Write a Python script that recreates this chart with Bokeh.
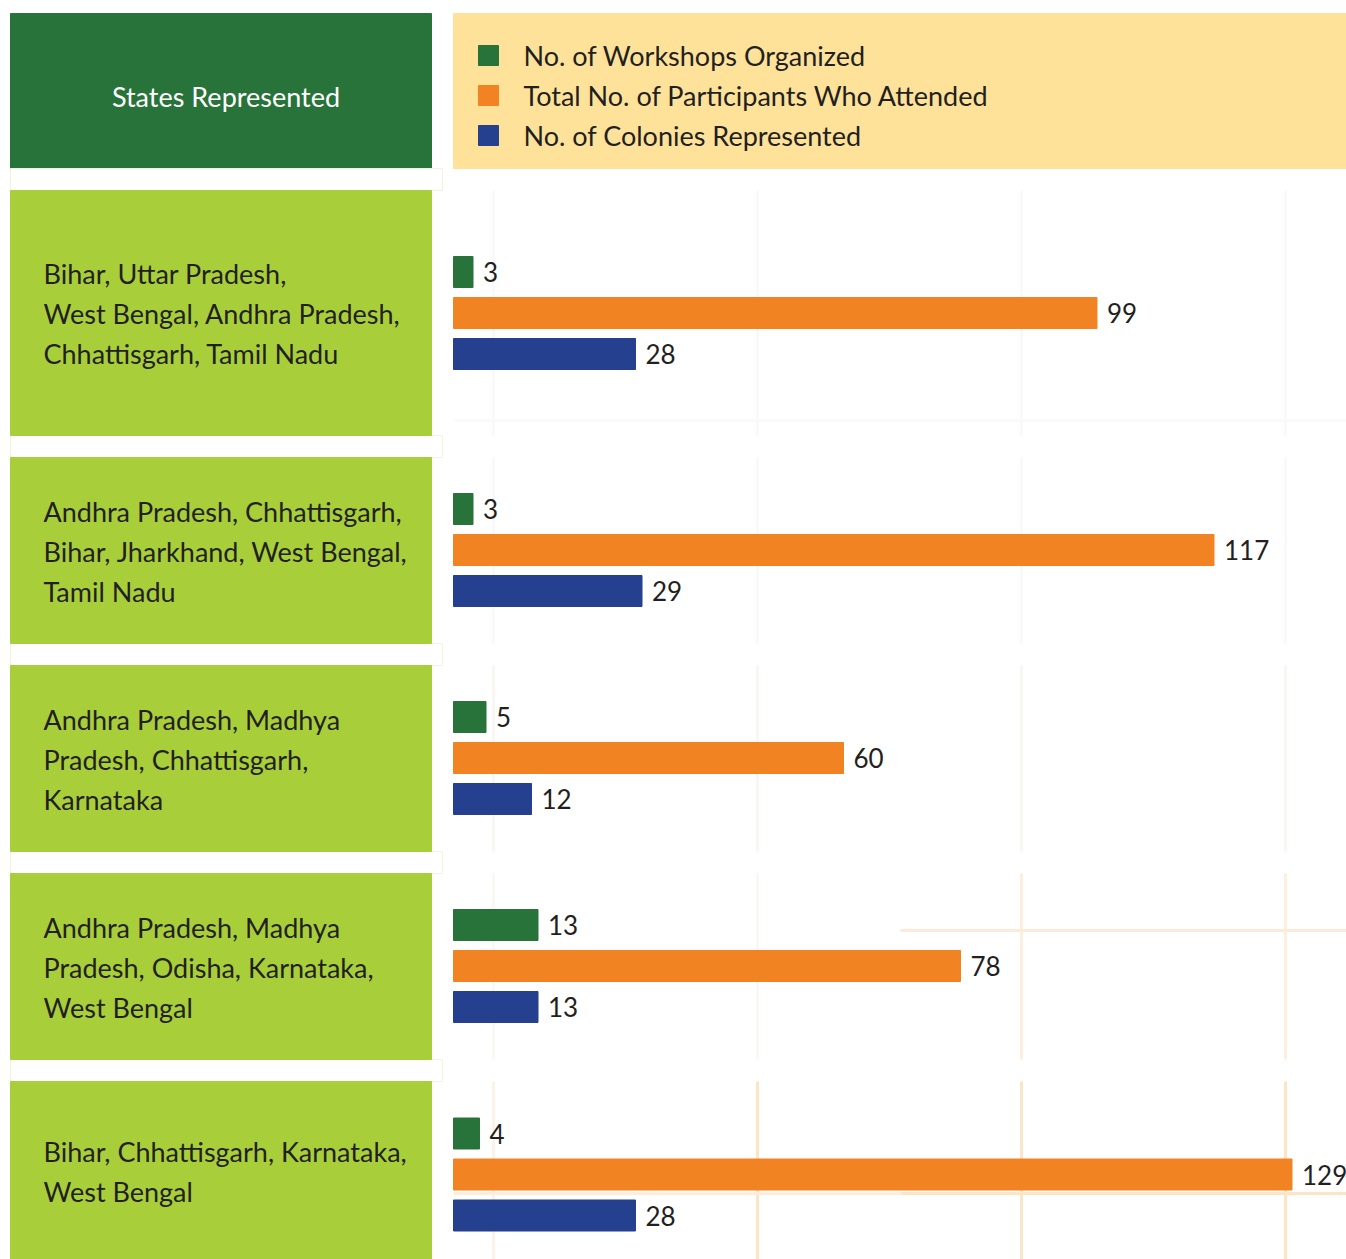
from bokeh.plotting import figure
from bokeh.models import Range1d, ColumnDataSource
from bokeh.core.properties import value
from bokeh.embed import file_html
from bokeh.resources import INLINE

# ---------------- data ----------------
states = [
    ["Bihar, Uttar Pradesh,", "West Bengal, Andhra Pradesh,", "Chhattisgarh, Tamil Nadu"],
    ["Andhra Pradesh, Chhattisgarh,", "Bihar, Jharkhand, West Bengal,", "Tamil Nadu"],
    ["Andhra Pradesh, Madhya", "Pradesh, Chhattisgarh,", "Karnataka"],
    ["Andhra Pradesh, Madhya", "Pradesh, Odisha, Karnataka,", "West Bengal"],
    ["Bihar, Chhattisgarh, Karnataka,", "West Bengal"],
]
workshops = [3, 3, 5, 13, 4]
participants = [99, 117, 60, 78, 129]
colonies = [28, 29, 12, 13, 28]
series_names = ["No. of Workshops Organized",
                "Total No. of Participants Who Attended",
                "No. of Colonies Represented"]
header_title = "States Represented"

# ---------------- style / layout ----------------
DARK_GREEN = "#28733A"
LIGHT_GREEN = "#A8CF3A"
YELLOW = "#FFE299"
ORANGE = "#F28322"
BLUE = "#25408F"
TEXT = "#231F20"
FONT = value("Lato")
FS = "27px"
FS_VAL = "26px"

series_values = [workshops, participants, colonies]
series_colors = [DARK_GREEN, ORANGE, BLUE]

S = 6.5      # px per unit
X0 = 453     # px where value 0 sits
def px(v):
    return (v - X0) / S

row_top = [190, 457, 665, 873, 1081]
row_bot = [435, 643, 851, 1059, 1259]
bar_mid = [312.5, 549.5, 757.5, 965.5, 1174]
bar_step = 41
bar_h = 31
line_gap = 40

p = figure(width=1346, height=1259, output_backend="svg", toolbar_location=None,
           x_range=Range1d(px(0), px(1346)), y_range=Range1d(1259, 0),
           x_axis_location=None, y_axis_location=None, min_border=0)
p.grid.visible = False
p.outline_line_color = None
p.background_fill_color = "white"

# faint background grid
gx = [493, 757, 1021, 1285]
seg = dict(x0=[], y0=[], x1=[], y1=[], c=[])
faint = ["#F9F9F9", "#F9F9F9", "#F9F7F4", "#FCEFE0", "#FCE4C6"]
for r in range(5):
    for j, g in enumerate(gx):
        c = faint[r]
        if r == 3 and j < 2:
            c = "#FAF8F5"
        if r == 4 and j == 0:
            c = "#FBF3EA"
        seg["x0"].append(px(g)); seg["x1"].append(px(g))
        seg["y0"].append(row_top[r]); seg["y1"].append(row_bot[r])
        seg["c"].append(c)
# horizontal faint lines
for (y, xa, xb, c) in [(420, 453, 1346, "#FAFAFA"), (930, 900, 1346, "#FCEBD6"),
                       (1193, 453, 900, "#FCEEDF"), (1193, 900, 1346, "#FCE4C6")]:
    seg["x0"].append(px(xa)); seg["x1"].append(px(xb))
    seg["y0"].append(y); seg["y1"].append(y); seg["c"].append(c)
p.segment("x0", "y0", "x1", "y1", source=ColumnDataSource(seg), line_color="c", line_width=3)

# header boxes
p.quad(left=[px(10)], right=[px(431)], top=[13], bottom=[168], color=DARK_GREEN)
p.quad(left=[px(453)], right=[px(1346)], top=[13], bottom=[168], color=YELLOW)
p.text(x=[px(225.5)], y=[96], text=[header_title], text_color="white", text_font=FONT,
       text_font_size=FS, text_align="center", text_baseline="middle")

# gap strips (faint outline)
gaps = [(168, 190)] + [(row_bot[i], row_top[i + 1]) for i in range(4)]
p.quad(left=[px(10)] * 5, right=[px(442)] * 5, top=[g[0] for g in gaps],
       bottom=[g[1] for g in gaps], fill_color="white", line_color="#EEF5DD", line_width=1)

# legend
leg_y = [55, 95, 135]
p.rect(x=[px(488)] * 3, y=leg_y, width=20 / S, height=20, color=series_colors)
p.text(x=[px(523)] * 3, y=leg_y, text=series_names, text_color=TEXT,
       text_font=FONT, text_font_size=FS, text_baseline="middle")

# state boxes and labels
p.quad(left=[px(10)] * 5, right=[px(431)] * 5, top=row_top, bottom=row_bot, color=LIGHT_GREEN)
lx, ly, lt = [], [], []
for r, lines in enumerate(states):
    c = (row_top[r] + row_bot[r]) / 2 + 0.5
    n = len(lines)
    for i, t in enumerate(lines):
        lx.append(px(43)); ly.append(c + (i - (n - 1) / 2) * line_gap); lt.append(t)
p.text(x=lx, y=ly, text=lt, text_color=TEXT, text_font=FONT, text_font_size=FS,
       text_baseline="middle")

# bars
for k, (vals, col) in enumerate(zip(series_values, series_colors)):
    ys = [m + (k - 1) * bar_step for m in bar_mid]
    p.hbar(y=ys, height=bar_h, left=0, right=vals, color=col)
    p.text(x=vals, y=ys, text=[str(v) for v in vals], x_offset=10,
           text_color=TEXT, text_font=FONT, text_font_size=FS_VAL, text_baseline="middle")

open("out.html", "w").write(file_html(p, INLINE))
